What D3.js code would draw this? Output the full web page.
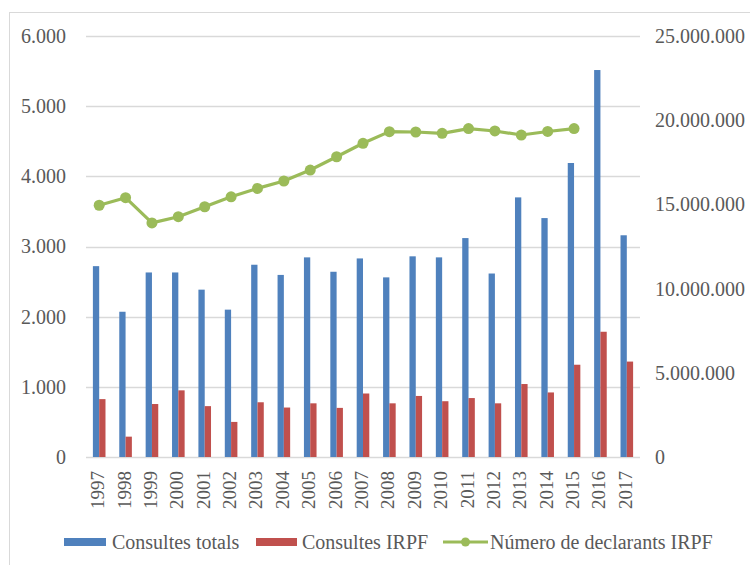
<!DOCTYPE html>
<html lang="ca">
<head>
<meta charset="UTF-8">
<title>Consultes i declarants IRPF</title>
<style>
    body { margin: 0; background: #fff; }
    svg { display: block; }
    text { font-family: "Liberation Serif", "Times New Roman", serif; fill: #595959; }
</style>
</head>
<body>
<script src="https://d3js.org/d3.v7.min.js"></script>
<script>
    const width = 750
    const height = 565

    const years = ['1997', '1998', '1999', '2000', '2001', '2002', '2003', '2004', '2005', '2006', '2007',
        '2008', '2009', '2010', '2011', '2012', '2013', '2014', '2015', '2016', '2017']
    const consultesTotals = [2720, 2070, 2630, 2630, 2385, 2100, 2740, 2595, 2845, 2640, 2830,
        2560, 2860, 2845, 3120, 2615, 3700, 3405, 4190, 5515, 3160]
    const consultesIRPF = [825, 290, 755, 950, 725, 500, 780, 705, 765, 700, 905,
        765, 870, 795, 840, 765, 1040, 920, 1315, 1785, 1360]
    const declarants = [14950000, 15400000, 13900000, 14270000, 14860000, 15450000, 15950000, 16390000,
        17040000, 17830000, 18630000, 19320000, 19300000, 19220000, 19500000, 19360000, 19120000,
        19330000, 19500000, null, null]
    const leftTicks = [0, 1000, 2000, 3000, 4000, 5000, 6000]
    const rightTicks = [0, 5000000, 10000000, 15000000, 20000000, 25000000]

    const colors = { totals: '#4F81BD', irpf: '#C0504D', decl: '#9BBB59' }
    const margin = { left: 86, right: 110, top: 36, bottom: 108 }

    // format 25000000 -> 25.000.000
    const fmt = v => d3.format(',')(v).replace(/,/g, '.')

    const svg = d3.select('body').append('svg')
        .attr('width', width)
        .attr('height', height)

    // chart border
    svg.append('rect')
        .attr('x', 9.5).attr('y', 12.5)
        .attr('width', width + 10).attr('height', height + 10)
        .attr('fill', 'none').attr('stroke', '#d9d9d9')

    const x = d3.scaleBand()
        .domain(years)
        .range([margin.left, width - margin.right])

    const yL = d3.scaleLinear().domain([0, 6000]).range([height - margin.bottom, margin.top])
    const yR = d3.scaleLinear().domain([0, 25000000]).range([height - margin.bottom, margin.top])

    // gridlines
    svg.append('g')
        .selectAll('line')
        .data(leftTicks)
        .join('line')
        .attr('x1', x.range()[0]).attr('x2', x.range()[1])
        .attr('y1', d => Math.round(yL(d)) + 0.5).attr('y2', d => Math.round(yL(d)) + 0.5)
        .attr('stroke', '#d9d9d9').attr('stroke-width', 1.3)

    // left axis
    const axL = svg.append('g')
        .attr('transform', `translate(${margin.left - 17},0)`)
        .call(d3.axisLeft(yL).tickValues(leftTicks).tickFormat(fmt).tickSize(0))
    axL.select('.domain').remove()
    axL.selectAll('text').attr('font-size', 20).attr('fill', '#595959').style('font-family', null)

    // right axis
    const axR = svg.append('g')
        .attr('transform', `translate(${width - margin.right + 12},0)`)
        .call(d3.axisRight(yR).tickValues(rightTicks).tickFormat(fmt).tickSize(0))
    axR.select('.domain').remove()
    axR.selectAll('text').attr('font-size', 20).attr('fill', '#595959').style('font-family', null)

    // bars
    const barW = 6.3
    const groups = svg.append('g')
        .selectAll('g')
        .data(years)
        .join('g')
        .attr('transform', d => `translate(${x(d) + x.bandwidth() / 2},0)`)

    groups.append('rect')
        .attr('x', -barW)
        .attr('width', barW)
        .attr('y', (_, i) => yL(consultesTotals[i]))
        .attr('height', (_, i) => yL(0) - yL(consultesTotals[i]))
        .attr('fill', colors.totals)

    groups.append('rect')
        .attr('x', 0)
        .attr('width', barW)
        .attr('y', (_, i) => yL(consultesIRPF[i]))
        .attr('height', (_, i) => yL(0) - yL(consultesIRPF[i]))
        .attr('fill', colors.irpf)

    // line for declarants
    const pts = years.map((y, i) => ({ y, v: declarants[i] })).filter(d => d.v != null)
    const line = d3.line()
        .x(d => x(d.y) + x.bandwidth() / 2)
        .y(d => yR(d.v))

    svg.append('path')
        .datum(pts)
        .attr('d', line)
        .attr('fill', 'none')
        .attr('stroke', colors.decl)
        .attr('stroke-width', 3.2)
        .attr('stroke-linejoin', 'round')

    svg.append('g')
        .selectAll('circle')
        .data(pts)
        .join('circle')
        .attr('cx', d => x(d.y) + x.bandwidth() / 2)
        .attr('cy', d => yR(d.v))
        .attr('r', 5.5)
        .attr('fill', colors.decl)

    // x labels, rotated
    svg.append('g')
        .selectAll('text')
        .data(years)
        .join('text')
        .attr('transform', d => `translate(${x(d) + x.bandwidth() / 2 + 5},${height - margin.bottom + 14}) rotate(-90)`)
        .attr('text-anchor', 'end')
        .attr('font-size', 19)
        .text(d => d)

    // legend
    const legendY = 542
    const legend = svg.append('g')
    legend.append('rect').attr('x', 64).attr('y', legendY - 4).attr('width', 42).attr('height', 8).attr('fill', colors.totals)
    legend.append('text').attr('x', 112).attr('y', legendY + 7).attr('font-size', 20).text('Consultes totals')
    legend.append('rect').attr('x', 256).attr('y', legendY - 4).attr('width', 41).attr('height', 8).attr('fill', colors.irpf)
    legend.append('text').attr('x', 302).attr('y', legendY + 7).attr('font-size', 20).text('Consultes IRPF')
    legend.append('line').attr('x1', 443).attr('x2', 488).attr('y1', legendY).attr('y2', legendY)
        .attr('stroke', colors.decl).attr('stroke-width', 3.2)
    legend.append('circle').attr('cx', 465.5).attr('cy', legendY).attr('r', 4.5).attr('fill', colors.decl)
    legend.append('text').attr('x', 490).attr('y', legendY + 7).attr('font-size', 20).text('Número de declarants IRPF')
</script>
</body>
</html>
